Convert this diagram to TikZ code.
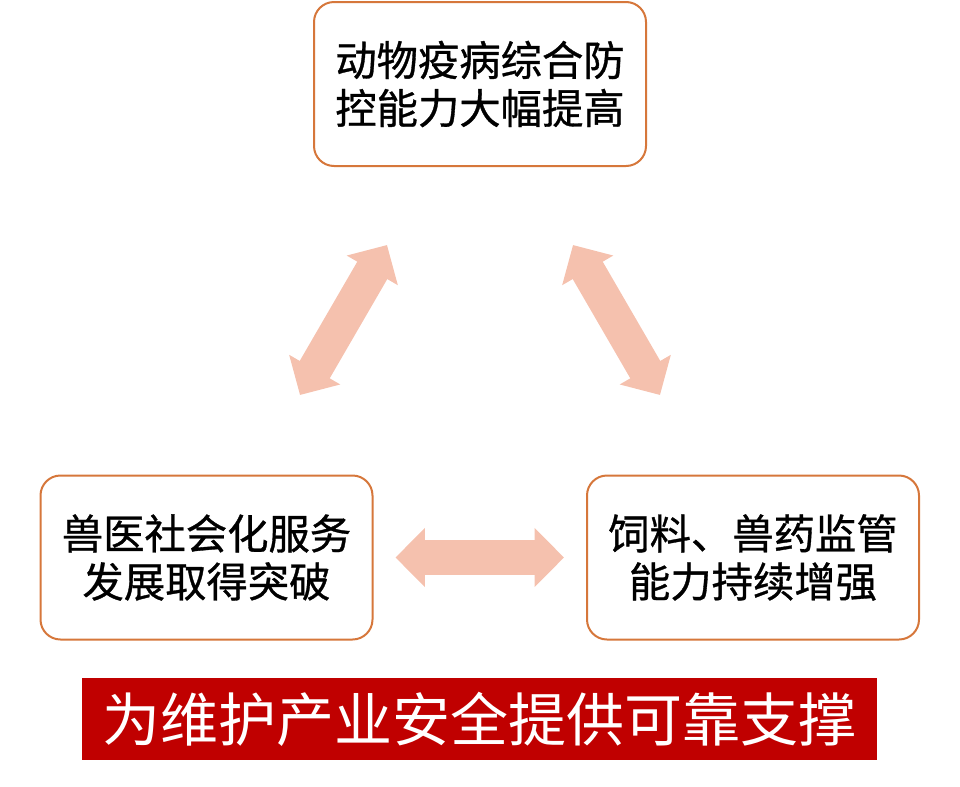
\documentclass[tikz,border=0pt]{standalone}
\usepackage{fontspec}
\newfontfamily\cjk{Noto Sans CJK SC}
\newfontfamily\cjkheavy[FakeBold=0.8]{Noto Sans CJK SC}
\usepackage{tikz}
\usetikzlibrary{positioning, arrows.meta, calc}
\definecolor{boxline}{HTML}{D6773B}
\definecolor{arrowfill}{HTML}{F5C1AE}
\definecolor{bannerred}{HTML}{C00000}

\begin{document}
\begin{tikzpicture}[x=0.75pt, y=-0.75pt, font=\cjk,
  goal/.style={draw=boxline, line width=1.5pt, rounded corners=15pt, fill=white,
    minimum width=249pt, minimum height=123pt, align=center,
    font=\cjkheavy\fontsize{31}{36}\selectfont},
  link/.style={draw=arrowfill, line width=26pt,
    {Triangle[length=22pt, width=43pt]}-{Triangle[length=22pt, width=43pt]}}]
  \useasboundingbox (0,0) rectangle (960,786);
  \node[goal] (epi) at (480,84) {动物疫病综合防\\控能力大幅提高};
  \node[goal] (vet) at (206.5,557.5) {兽医社会化服务\\发展取得突破};
  \node[goal] (feed) at (753,557.5) {饲料、兽药监管\\能力持续增强};
  \node[fill=bannerred, text=white, minimum width=596pt, minimum height=61.5pt,
        font=\cjk\fontsize{43.5}{48}\selectfont] (base) at (479.5,719)
       {为维护产业安全提供可靠支撑};
  % two-way links between the three goals
  \coordinate (l1) at (300,395);
  \coordinate (l2) at (387,245);
  \coordinate (r1) at (573,245);
  \coordinate (r2) at (660,395);
  \draw[link] (l1) -- (l2);
  \draw[link] (r1) -- (r2);
  \draw[link] ($(vet.east)+(22,0)$) -- ($(feed.west)+(-22,0)$);
\end{tikzpicture}
\end{document}
